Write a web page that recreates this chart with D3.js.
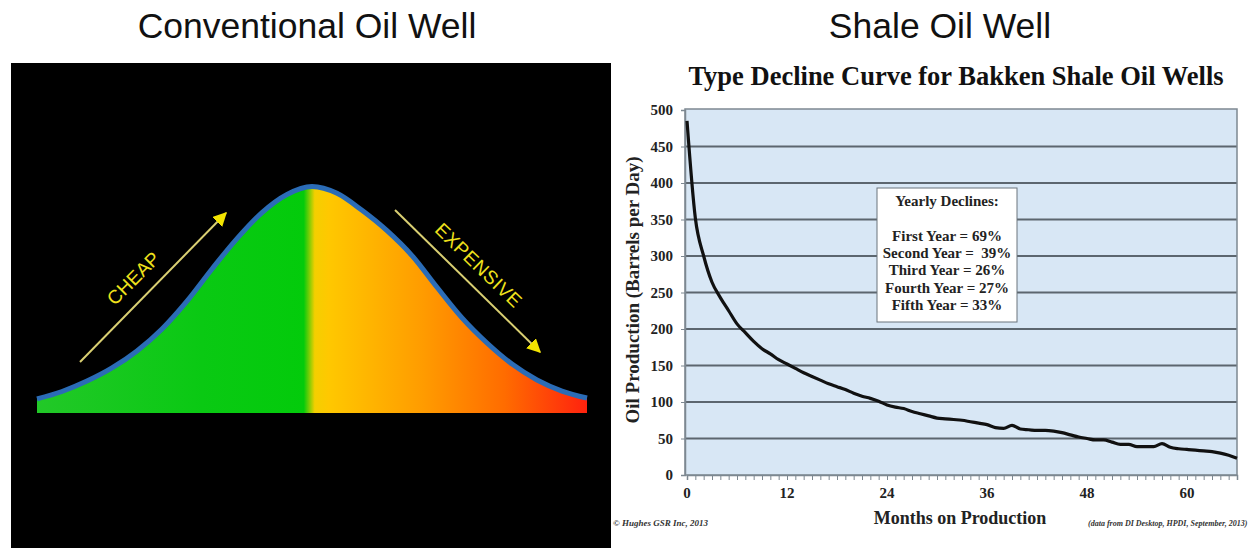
<!DOCTYPE html>
<html><head><meta charset="utf-8">
<script src="https://cdn.jsdelivr.net/npm/d3@7"></script>
<style>html,body{margin:0;padding:0;background:#fff;}svg{display:block;}</style>
</head><body>
<svg id="c" width="1254" height="548"></svg>
<script>
// ---------- data ----------
const panelTitles = ["Conventional Oil Well", "Shale Oil Well"];
// conventional: relative production level along the life of the field (0 = base, 100 = peak)
const bellLevels = [6.2, 9.5, 14.1, 19.9, 27.4, 37.1, 49.4, 63.6, 77.0, 88.5, 96.5, 100, 97.0, 89.5, 80.5, 69.5, 55.5, 42.0, 30.9, 21.6, 14.6, 9.7, 6.6];
const bellLabels = ["CHEAP", "EXPENSIVE"];
// shale: monthly production (barrels per day), months 0..66
const months = d3.range(0, 67);
const production = [485, 352, 300, 264, 243, 225, 207, 195, 183, 173, 166, 158, 152, 146, 140, 135, 130, 125, 121, 117, 112, 108, 105, 101, 96, 93, 91, 87, 84, 81, 78, 77, 76, 75, 73, 71, 69, 65, 64, 68, 63, 62, 61, 61, 60, 58, 55, 52, 50, 48, 48, 45, 42, 42, 39, 39, 39, 43, 38, 36, 35, 34, 33, 32, 30, 27, 23];
const xTickValues = [0, 12, 24, 36, 48, 60];
const yTickValues = [0, 50, 100, 150, 200, 250, 300, 350, 400, 450, 500];
const chartTitle = "Type Decline Curve for Bakken Shale Oil Wells";
const yTitle = "Oil Production (Barrels per Day)";
const xTitle = "Months on Production";
const declineHeader = "Yearly Declines:";
const declineYears = ["First Year", "Second Year", "Third Year", "Fourth Year", "Fifth Year"];
const declinePct = [69, 39, 26, 27, 33];
const footLeft = "\u00A9 Hughes GSR Inc, 2013";
const footRight = "(data from DI Desktop, HPDI, September, 2013)";

// ---------- drawing ----------
const svg = d3.select("#c");
const defs = svg.append("defs");
const sans = "'Liberation Sans', Arial, sans-serif";
const serif = "'Liberation Serif', 'Times New Roman', serif";

svg.append("rect").attr("width", 1254).attr("height", 548).attr("fill", "#fff");

// panel titles
svg.selectAll("text.ptitle").data(panelTitles).join("text")
  .attr("class", "ptitle")
  .attr("x", (d, i) => i === 0 ? 307 : 940).attr("y", 38)
  .attr("text-anchor", "middle").attr("font-family", sans).attr("font-size", 35.5)
  .attr("fill", "#111").text(d => d);

// ===== Left panel =====
svg.append("rect").attr("x", 11).attr("y", 63).attr("width", 600).attr("height", 485).attr("fill", "#000");

const bx = d3.scaleLinear().domain([0, bellLevels.length - 1]).range([37, 587]);
const by = d3.scaleLinear().domain([0, 100]).range([413, 186.5]);

const grad = defs.append("linearGradient").attr("id", "bellGrad")
  .attr("gradientUnits", "userSpaceOnUse").attr("x1", 37).attr("x2", 587).attr("y1", 0).attr("y2", 0);
[[0, "#22c828"], [0.3, "#0ac913"], [0.485, "#03cb0b"], [0.505, "#f4cf00"], [0.53, "#ffc800"],
 [0.7, "#ff9c00"], [0.85, "#ff6c00"], [1, "#ff220e"]].forEach(s =>
  grad.append("stop").attr("offset", s[0]).attr("stop-color", s[1]));

const area = d3.area().x((d, i) => bx(i)).y0(by(0)).y1(d => by(d)).curve(d3.curveMonotoneX);
const topLine = d3.line().x((d, i) => bx(i)).y(d => by(d)).curve(d3.curveMonotoneX);
svg.append("path").datum(bellLevels).attr("d", area).attr("fill", "url(#bellGrad)");
svg.append("path").datum(bellLevels).attr("d", topLine).attr("fill", "none")
  .attr("stroke", "#2b6cb6").attr("stroke-width", 5);

defs.append("marker").attr("id", "arrowY").attr("viewBox", "0 0 10 10").attr("refX", 9).attr("refY", 5)
  .attr("markerWidth", 7).attr("markerHeight", 7).attr("orient", "auto").attr("markerUnits", "strokeWidth")
  .append("path").attr("d", "M0,0 L10,5 L0,10 Z").attr("fill", "#f3e400");

const arrows = [[80, 362, 226, 213], [395, 210, 540, 352]];
svg.selectAll("line.arr").data(arrows).join("line").attr("class", "arr")
  .attr("x1", d => d[0]).attr("y1", d => d[1]).attr("x2", d => d[2]).attr("y2", d => d[3])
  .attr("stroke", "#d9cf72").attr("stroke-width", 2).attr("marker-end", "url(#arrowY)");

svg.append("text").attr("transform", "translate(138,283) rotate(-45)")
  .attr("text-anchor", "middle").attr("font-family", sans).attr("font-size", 19)
  .attr("fill", "#f0e21c").text(bellLabels[0]);
svg.append("text").attr("transform", "translate(474,270) rotate(44)")
  .attr("text-anchor", "middle").attr("font-family", sans).attr("font-size", 19)
  .attr("letter-spacing", 0.5).attr("fill", "#f0e21c").text(bellLabels[1]);

// ===== Right panel =====
const L = 685, R = 1237, T = 109, B = 475;
const x = d3.scaleLinear().domain([0, 66]).range([687, 1237]);
const y = d3.scaleLinear().domain([0, 500]).range([475, 110]);

svg.append("text").attr("x", 956).attr("y", 85).attr("text-anchor", "middle")
  .attr("font-family", serif).attr("font-weight", "bold").attr("font-size", 26.5)
  .attr("fill", "#111").text(chartTitle);

svg.append("rect").attr("x", L).attr("y", T).attr("width", R - L).attr("height", B - T)
  .attr("fill", "#d8e7f5");

// gridlines
svg.append("g").selectAll("line").data(yTickValues.filter(v => v > 0 && v < 500)).join("line")
  .attr("x1", L).attr("x2", R).attr("y1", d => y(d)).attr("y2", d => y(d))
  .attr("stroke", "#5c666f").attr("stroke-width", 2);

svg.append("rect").attr("x", L).attr("y", T).attr("width", R - L).attr("height", B - T)
  .attr("fill", "none").attr("stroke", "#7d8891").attr("stroke-width", 1.5);

// x axis minor ticks and labels
const xAxis = d3.axisBottom(x).tickValues(months).tickSize(5).tickFormat("");
const gx = svg.append("g").attr("transform", `translate(0,${B})`).call(xAxis);
gx.select(".domain").attr("stroke", "#7d8891").attr("stroke-width", 1.5);
gx.selectAll(".tick line").attr("stroke", "#7d8891").attr("stroke-width", 1);
svg.append("g").selectAll("text").data(xTickValues).join("text")
  .attr("x", d => x(d)).attr("y", 498).attr("text-anchor", "middle")
  .attr("font-family", serif).attr("font-weight", "bold").attr("font-size", 15)
  .attr("fill", "#222").text(d => d);

// y axis
const yAxis = d3.axisLeft(y).tickValues(yTickValues).tickSize(4).tickPadding(8);
const gy = svg.append("g").attr("transform", `translate(${L},0)`).call(yAxis);
gy.select(".domain").attr("stroke", "#7d8891").attr("stroke-width", 1.5);
gy.selectAll(".tick line").attr("stroke", "#7d8891");
gy.selectAll(".tick text").attr("font-family", serif).attr("font-weight", "bold")
  .attr("font-size", 15).attr("fill", "#222");

svg.append("text").attr("transform", "translate(639,290) rotate(-90)").attr("text-anchor", "middle")
  .attr("font-family", serif).attr("font-weight", "bold").attr("font-size", 19)
  .attr("fill", "#222").text(yTitle);
svg.append("text").attr("x", 960).attr("y", 524).attr("text-anchor", "middle")
  .attr("font-family", serif).attr("font-weight", "bold").attr("font-size", 18)
  .attr("fill", "#222").text(xTitle);

// curve
svg.append("path").datum(production)
  .attr("d", d3.line().x((d, i) => x(months[i])).y(d => y(d)).curve(d3.curveMonotoneX))
  .attr("fill", "none").attr("stroke", "#111").attr("stroke-width", 3.2).attr("stroke-linejoin", "round");

// declines box
svg.append("rect").attr("x", 877).attr("y", 188).attr("width", 140).attr("height", 134)
  .attr("fill", "#fff").attr("stroke", "#6b747c").attr("stroke-width", 1);
const boxLines = [declineHeader, ""].concat(declineYears.map((n, i) => n + " = " + (i === 1 ? "\u00A0" : "") + declinePct[i] + "%"));
svg.append("g").selectAll("text").data(boxLines).join("text")
  .attr("x", 947).attr("y", (d, i) => i < 2 ? 206 + i * 17 : 241 + (i - 2) * 17.2)
  .attr("text-anchor", "middle").attr("font-family", serif).attr("font-weight", "bold")
  .attr("font-size", 15).attr("fill", "#222").text(d => d);

// footers
svg.append("text").attr("x", 613).attr("y", 526).attr("font-family", serif).attr("font-style", "italic")
  .attr("font-weight", "bold").attr("font-size", 9).attr("fill", "#333").text(footLeft);
svg.append("text").attr("x", 1088).attr("y", 526).attr("font-family", serif).attr("font-style", "italic")
  .attr("font-weight", "bold").attr("font-size", 8).attr("fill", "#333").text(footRight);
</script>
</body></html>
